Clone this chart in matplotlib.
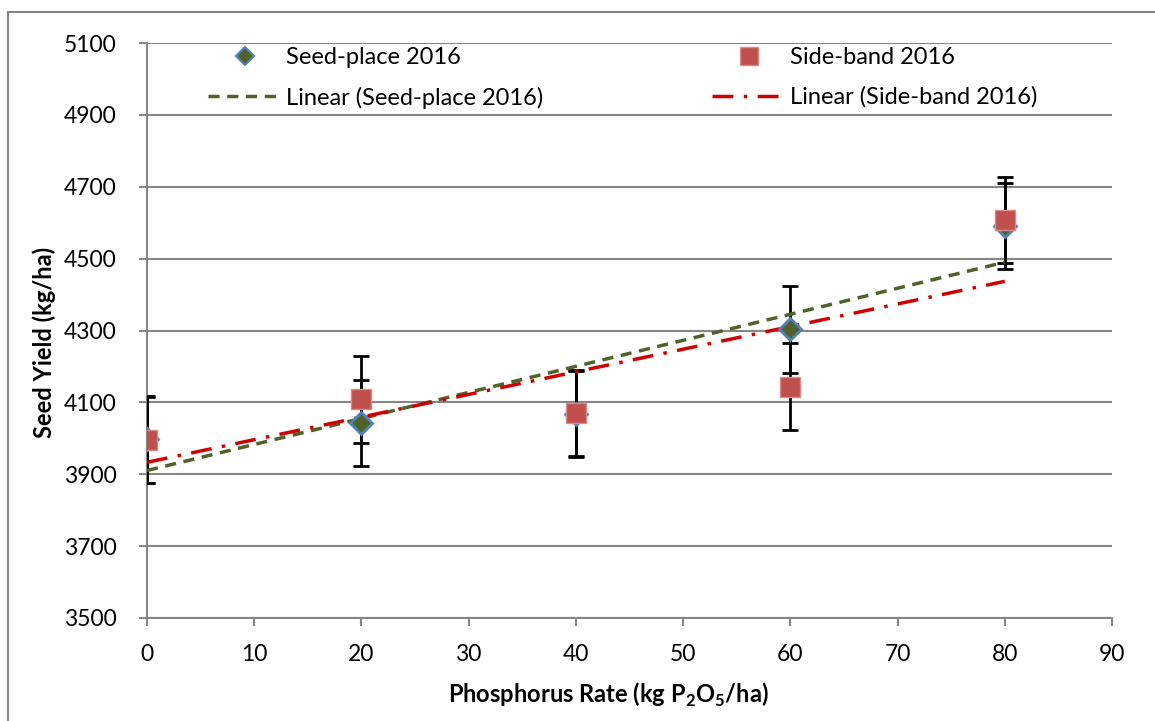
import numpy as np
import matplotlib
matplotlib.use("Agg")
import matplotlib.pyplot as plt
from matplotlib.lines import Line2D

plt.rcParams['font.family'] = ['Lato', 'DejaVu Sans']
plt.rcParams['mathtext.fontset'] = 'custom'
plt.rcParams['mathtext.rm'] = 'Lato'
plt.rcParams['mathtext.bf'] = 'Lato:bold'

# data
rate = [0, 20, 40, 60, 80]
seed_place = [3997, 4042, 4068, 4303, 4591]
seed_err = [120, 120, 120, 120, 120]
side_band = [3995, 4109, 4070, 4144, 4607]
side_err = [120, 121, 120, 121, 120]

yticks = [3500, 3700, 3900, 4100, 4300, 4500, 4700, 4900, 5100]
xticks = [0, 10, 20, 30, 40, 50, 60, 70, 80, 90]

W, H = 1155, 721
fig = plt.figure(figsize=(W / 100, H / 100), dpi=100)
ax = fig.add_axes([147 / W, 1 - 618 / H, (1112 - 147) / W, (618 - 43) / H])

grid_c = '#868686'
olive = '#4F6228'
blue = '#4F81BD'
red_sq = '#C0504D'
red_ln = '#D00000'

# error bars
ax.errorbar(rate, seed_place, yerr=seed_err, fmt='none', ecolor='black',
            elinewidth=2, capsize=6, capthick=2, zorder=3)
ax.errorbar(rate, side_band, yerr=side_err, fmt='none', ecolor='black',
            elinewidth=2, capsize=6, capthick=2, zorder=3)

# linear trendlines
xs = np.array([min(rate), max(rate)])
p1 = np.polyfit(rate, seed_place, 1)
p2 = np.polyfit(rate, side_band, 1)
ax.plot(xs, np.polyval(p1, xs), color=olive, lw=2.5, ls=(0, (3.2, 2.2)), zorder=4)
ax.plot(xs, np.polyval(p2, xs), color=red_ln, lw=2.5, ls=(0, (6, 3, 1, 3)), zorder=4)

# markers
ax.plot(rate, seed_place, ls='none', marker='D', ms=11, mfc=olive, mec=blue,
        mew=2, zorder=5)
ax.plot(rate, side_band, ls='none', marker='s', ms=15, mfc=red_sq, mec='#D98C8A',
        mew=1, zorder=6)

ax.set_xlim(0, 90)
ax.set_ylim(3500, 5100)
ax.set_xticks(xticks)
ax.set_yticks(yticks)
ax.grid(axis='y', color=grid_c, lw=1.5)
ax.set_axisbelow(True)
for s in ['top', 'right']:
    ax.spines[s].set_visible(False)
for s in ['left', 'bottom']:
    ax.spines[s].set_color(grid_c)
    ax.spines[s].set_linewidth(1.5)
ax.tick_params(axis='y', direction='out', length=6, width=1.5, color=grid_c,
               labelsize=16.5, pad=16)
ax.tick_params(axis='x', direction='out', length=6, width=1.5, color=grid_c,
               labelsize=16.5, pad=13)

ax.set_ylabel('Seed Yield (kg/ha)', fontsize=17, fontweight=700)
ax.set_xlabel(r'Phosphorus Rate (kg P$_\mathbf{2}$O$_\mathbf{5}$/ha)',
              fontsize=17, fontweight=700)
ax.yaxis.set_label_coords(-0.094, 0.48)
ax.xaxis.set_label_coords(0.478, -0.11)

# legend, two columns
h1 = [Line2D([], [], ls='none', marker='D', ms=9, mfc=olive, mec=blue, mew=1.5),
      Line2D([], [], color=olive, lw=2.5, ls=(0, (3.2, 2.2)))]
h2 = [Line2D([], [], ls='none', marker='s', ms=13, mfc=red_sq, mec='#D98C8A', mew=1),
      Line2D([], [], color=red_ln, lw=2.5, ls=(0, (6, 3, 1, 3)))]
kw = dict(loc='upper left', frameon=False, fontsize=17, handlelength=3.1,
          handletextpad=0.22, labelspacing=0.78, borderpad=0, borderaxespad=0,
          bbox_transform=fig.transFigure)
leg1 = ax.legend(h1, ['Seed-place 2016', 'Linear (Seed-place 2016)'],
                 bbox_to_anchor=(208 / W, 1 - 47 / H), **kw)
ax.add_artist(leg1)
ax.legend(h2, ['Side-band 2016', 'Linear (Side-band 2016)'],
          bbox_to_anchor=(712 / W, 1 - 47 / H), **kw)

# chart area border
fig.add_artist(Line2D([8 / W, 1], [1 - 11.5 / H, 1 - 11.5 / H], color=grid_c, lw=1.5))
fig.add_artist(Line2D([8 / W, 8 / W], [0, 1 - 11.5 / H], color=grid_c, lw=1.5))

fig.savefig('out.png', dpi=100)
